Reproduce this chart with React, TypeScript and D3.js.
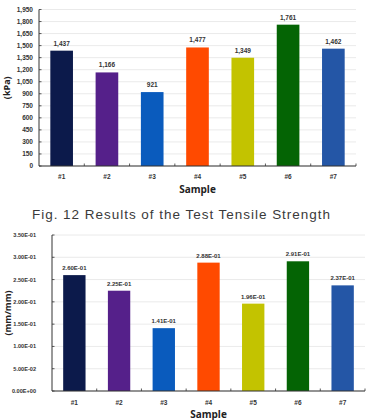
import React, { useEffect, useRef } from 'react';
import * as d3 from 'd3';

const samples = ['#1', '#2', '#3', '#4', '#5', '#6', '#7'];
const barColors = ['#0c1a4b', '#55208a', '#0a5bbd', '#ff4a00', '#c3c300', '#046404', '#2456a6'];

const tensileKpa = [1437, 1166, 921, 1477, 1349, 1761, 1462];
const tensileTicks = d3.range(0, 1951, 150);

const strainValues = [0.260, 0.225, 0.141, 0.288, 0.196, 0.291, 0.237];
const strainTicks = d3.range(0, 0.3501, 0.05);

const caption = 'Fig. 12 Results of the Test Tensile Strength';

const labelFont = '"Liberation Sans Narrow", "Liberation Sans", Arial, sans-serif';

function expFormat(v: number) {
  // Excel style scientific: 2.60E-01
  const s = v.toExponential(2).toUpperCase();
  return s.replace(/E([+-])(\d)$/, 'E$10$2');
}

function drawPanel(svg: any, opts: any) {
  const { values, ticks, yMax, left, right, top, bottom, tickFmt, tickSize, yLabel, yLabelX, labelFmt, labelSize, xLabelY, sampleY, tickLabelX } = opts;

  const g = svg.append('g');

  const x = d3.scaleBand().domain(samples).range([left, right]).paddingInner(0.5).paddingOuter(0.25);
  const y = d3.scaleLinear().domain([0, yMax]).range([bottom, top]);

  // gridlines
  g.selectAll('.grid')
    .data(ticks)
    .join('line')
    .attr('x1', left)
    .attr('x2', right)
    .attr('y1', (d: number) => y(d))
    .attr('y2', (d: number) => y(d))
    .attr('stroke', '#e4e4e4')
    .attr('stroke-width', 0.8);

  // bars
  g.selectAll('.bar')
    .data(values)
    .join('rect')
    .attr('x', (_: number, i: number) => x(samples[i]))
    .attr('y', (d: number) => y(d))
    .attr('width', x.bandwidth())
    .attr('height', (d: number) => bottom - y(d))
    .attr('fill', (_: number, i: number) => barColors[i]);

  // value labels
  g.selectAll('.val')
    .data(values)
    .join('text')
    .attr('x', (_: number, i: number) => x(samples[i])! + x.bandwidth() / 2)
    .attr('y', (d: number) => y(d) - 5)
    .attr('text-anchor', 'middle')
    .attr('font-family', labelFont)
    .attr('font-size', labelSize)
    .attr('font-weight', 'bold')
    .attr('fill', '#333')
    .text((d: number) => labelFmt(d));

  // y axis
  g.append('line')
    .attr('x1', left).attr('x2', left)
    .attr('y1', top).attr('y2', bottom)
    .attr('stroke', '#333').attr('stroke-width', 1);
  g.selectAll('.ytick')
    .data(ticks)
    .join('line')
    .attr('x1', left).attr('x2', left + 2.5)
    .attr('y1', (d: number) => y(d)).attr('y2', (d: number) => y(d))
    .attr('stroke', '#333').attr('stroke-width', 0.8);
  g.selectAll('.ylab')
    .data(ticks)
    .join('text')
    .attr('x', tickLabelX)
    .attr('y', (d: number) => y(d))
    .attr('dy', '0.35em')
    .attr('text-anchor', 'end')
    .attr('font-family', labelFont)
    .attr('font-size', tickSize)
    .attr('font-weight', 'bold')
    .attr('fill', '#333')
    .text((d: number) => tickFmt(d));

  // x axis
  g.append('line')
    .attr('x1', left).attr('x2', right)
    .attr('y1', bottom).attr('y2', bottom)
    .attr('stroke', '#333').attr('stroke-width', 1.2);
  const step = x.step();
  const bounds = d3.range(1, samples.length + 1).map(i => left + x.paddingOuter() * step + i * step - step * x.paddingInner() / 2);
  g.selectAll('.xtick')
    .data(bounds)
    .join('line')
    .attr('x1', (d: number) => d).attr('x2', (d: number) => d)
    .attr('y1', bottom - 2.5).attr('y2', bottom)
    .attr('stroke', '#333').attr('stroke-width', 0.8);
  g.selectAll('.xlab')
    .data(samples)
    .join('text')
    .attr('x', (d: string) => x(d)! + x.bandwidth() / 2)
    .attr('y', xLabelY)
    .attr('text-anchor', 'middle')
    .attr('font-family', labelFont)
    .attr('font-size', 6.5)
    .attr('font-weight', 'bold')
    .attr('fill', '#333')
    .text((d: string) => d);

  // axis titles
  g.append('text')
    .attr('x', (left + right) / 2)
    .attr('y', sampleY)
    .attr('text-anchor', 'middle')
    .attr('font-family', '"Open Sans", sans-serif')
    .attr('font-size', 10)
    .attr('font-weight', 'bold')
    .attr('fill', '#222')
    .text('Sample');
  g.append('text')
    .attr('transform', `translate(${yLabelX}, ${(top + bottom) / 2}) rotate(-90)`)
    .attr('text-anchor', 'middle')
    .attr('font-family', '"Open Sans", sans-serif')
    .attr('font-size', 9)
    .attr('font-weight', 'bold')
    .attr('fill', '#222')
    .text(yLabel);
}

export default function App() {
  const ref = useRef<SVGSVGElement>(null);

  useEffect(() => {
    const svg = d3.select(ref.current);
    svg.selectAll('*').remove();

    svg.append('rect').attr('width', 371).attr('height', 420).attr('fill', '#fff');

    drawPanel(svg, {
      values: tensileKpa,
      ticks: tensileTicks,
      yMax: 1950,
      left: 39,
      right: 356,
      top: 9.5,
      bottom: 166,
      tickFmt: d3.format(','),
      tickSize: 6.5,
      labelFmt: d3.format(','),
      labelSize: 6.5,
      yLabel: '(kPa)',
      yLabelX: 10,
      tickLabelX: 33,
      xLabelY: 179,
      sampleY: 193
    });

    svg.append('text')
      .attr('x', 181)
      .attr('y', 219)
      .attr('text-anchor', 'middle')
      .attr('font-family', '"Liberation Sans", Arial, sans-serif')
      .attr('font-size', 13.5)
      .attr('fill', '#3a3a3a')
      .attr('textLength', 298)
      .text(caption);

    drawPanel(svg, {
      values: strainValues,
      ticks: strainTicks,
      yMax: 0.35,
      left: 52,
      right: 365,
      top: 235,
      bottom: 391,
      tickFmt: expFormat,
      tickSize: 5.6,
      labelFmt: expFormat,
      labelSize: 6,
      yLabel: '(mm/mm)',
      yLabelX: 11,
      tickLabelX: 36,
      xLabelY: 405,
      sampleY: 418
    });
  }, []);

  return (
    <svg
      ref={ref}
      width={371}
      height={420}
      style={{ position: 'absolute', left: 0, top: 0, display: 'block' }}
    />
  );
}
